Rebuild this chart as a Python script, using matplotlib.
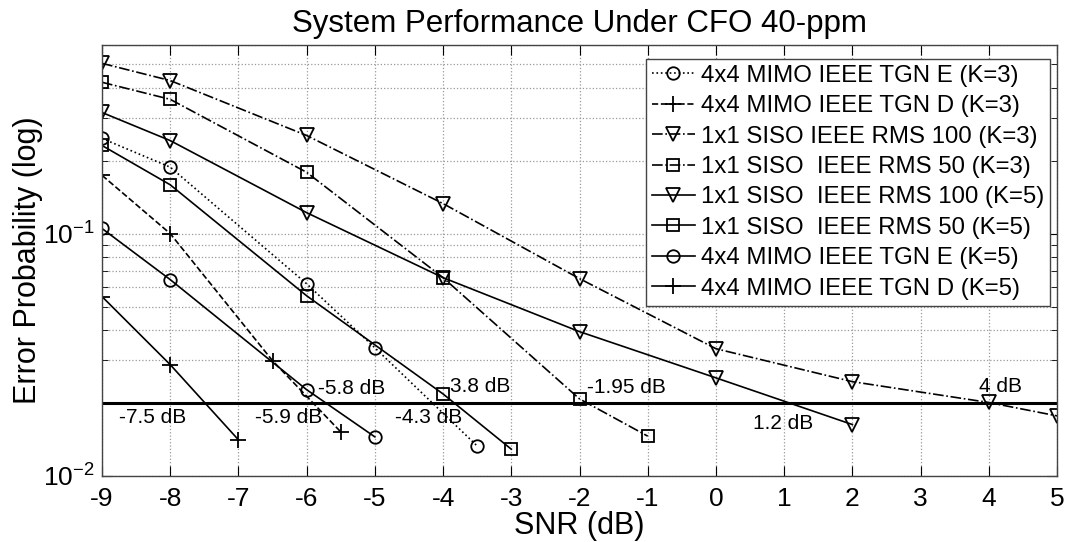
import matplotlib
matplotlib.use("Agg")
import matplotlib.pyplot as plt
from matplotlib.ticker import LogLocator, NullFormatter

plt.rcParams['font.family'] = ['Liberation Sans', 'DejaVu Sans']
plt.rcParams['mathtext.fontset'] = 'custom'
plt.rcParams['mathtext.rm'] = 'Liberation Sans'
plt.rcParams['axes.unicode_minus'] = False

# data (SNR in dB, error probability)
x_tgne3 = [-9, -8, -6, -5, -3.5]
y_tgne3 = [0.247, 0.188, 0.0621, 0.0338, 0.0133]
x_tgnd3 = [-9, -8, -6.5, -5.5]
y_tgnd3 = [0.174, 0.100, 0.0299, 0.0152]
x_rms100_3 = [-9, -8, -6, -4, -2, 0, 2, 4, 5]
y_rms100_3 = [0.504, 0.428, 0.254, 0.133, 0.0652, 0.0335, 0.0245, 0.0201, 0.0177]
x_rms50_3 = [-9, -8, -6, -4, -2, -1]
y_rms50_3 = [0.421, 0.358, 0.179, 0.0658, 0.0208, 0.0146]
x_rms100_5 = [-9, -8, -6, -4, -2, 0, 2]
y_rms100_5 = [0.316, 0.242, 0.122, 0.0658, 0.0394, 0.0254, 0.0163]
x_rms50_5 = [-9, -8, -6, -4, -3]
y_rms50_5 = [0.231, 0.159, 0.0554, 0.0218, 0.0129]
x_tgne5 = [-9, -8, -6, -5]
y_tgne5 = [0.105, 0.0646, 0.0227, 0.0145]
x_tgnd5 = [-9, -8, -7]
y_tgnd5 = [0.055, 0.0288, 0.0141]

threshold = 0.02

labels = ['4x4 MIMO IEEE TGN E (K=3)', '4x4 MIMO IEEE TGN D (K=3)',
          '1x1 SISO IEEE RMS 100 (K=3)', '1x1 SISO  IEEE RMS 50 (K=3)',
          '1x1 SISO  IEEE RMS 100 (K=5)', '1x1 SISO  IEEE RMS 50 (K=5)',
          '4x4 MIMO IEEE TGN E (K=5)', '4x4 MIMO IEEE TGN D (K=5)']

notes = ['-7.5 dB', '-5.9 dB', '-5.8 dB', '-4.3 dB', '3.8 dB', '-1.95 dB', '1.2 dB', '4 dB']
note_x = [-8.75, -6.76, -5.83, -4.71, -3.9, -1.89, 0.54, 3.85]
note_y = [0.0175, 0.0175, 0.0229, 0.0175, 0.0235, 0.0232, 0.0164, 0.0235]

fig = plt.figure(figsize=(10.69, 5.42), dpi=100)
ax = fig.add_axes([0.0954, 0.1218, 0.8934, 0.7952])

kw = dict(color='black', lw=1.2, mfc='none', mec='black', mew=1.3)
ax.plot(x_tgne3, y_tgne3, ':', marker='o', ms=9, label=labels[0], **kw)
ax.plot(x_tgnd3, y_tgnd3, '--', marker='+', ms=12, label=labels[1], **kw)
ax.plot(x_rms100_3, y_rms100_3, '-.', marker='v', ms=10, label=labels[2], **kw)
ax.plot(x_rms50_3, y_rms50_3, '-.', marker='s', ms=9, label=labels[3], **kw)
ax.plot(x_rms100_5, y_rms100_5, '-', marker='v', ms=10, label=labels[4], **kw)
ax.plot(x_rms50_5, y_rms50_5, '-', marker='s', ms=9, label=labels[5], **kw)
ax.plot(x_tgne5, y_tgne5, '-', marker='o', ms=9, label=labels[6], **kw)
ax.plot(x_tgnd5, y_tgnd5, '-', marker='+', ms=12, label=labels[7], **kw)

ax.axhline(threshold, color='black', lw=2.2)

for t, tx, ty in zip(notes, note_x, note_y):
    ax.text(tx, ty, t, fontsize=15, va='center', ha='left')

ax.set_yscale('log')
ax.set_xlim(-9, 5)
ax.set_ylim(0.01, 0.6)
ax.set_xticks(range(-9, 6))
ax.yaxis.set_major_locator(LogLocator(base=10, numticks=5))
ax.yaxis.set_minor_locator(LogLocator(base=10, subs=range(2, 10), numticks=10))
ax.yaxis.set_minor_formatter(NullFormatter())

ax.grid(True, which='major', ls=':', color='#999999', lw=0.9)
ax.grid(True, which='minor', axis='y', ls=':', color='#999999', lw=0.9)
ax.tick_params(which='both', direction='in', top=True, right=True, labelsize=19)
ax.tick_params(axis='x', pad=8)
ax.tick_params(axis='y', pad=5)
ax.tick_params(which='major', length=7)
ax.tick_params(which='minor', length=4)
for s in ax.spines.values():
    s.set_color('#444444')
    s.set_linewidth(1.0)

ax.set_xlabel('SNR (dB)', fontsize=22, labelpad=0)
ax.set_ylabel('Error Probability (log)', fontsize=22, labelpad=0)
ax.set_title('System Performance Under CFO 40-ppm', fontsize=22.5, pad=9)

leg = ax.legend(loc='upper right', bbox_to_anchor=(0.993, 0.968), fontsize=17.3,
                handlelength=1.8, handletextpad=0.25, labelspacing=0.35,
                borderpad=0.25, borderaxespad=0.0, fancybox=False, framealpha=1,
                edgecolor='#444444')
leg.get_frame().set_linewidth(1.0)

fig.savefig('out.png', dpi=100)
